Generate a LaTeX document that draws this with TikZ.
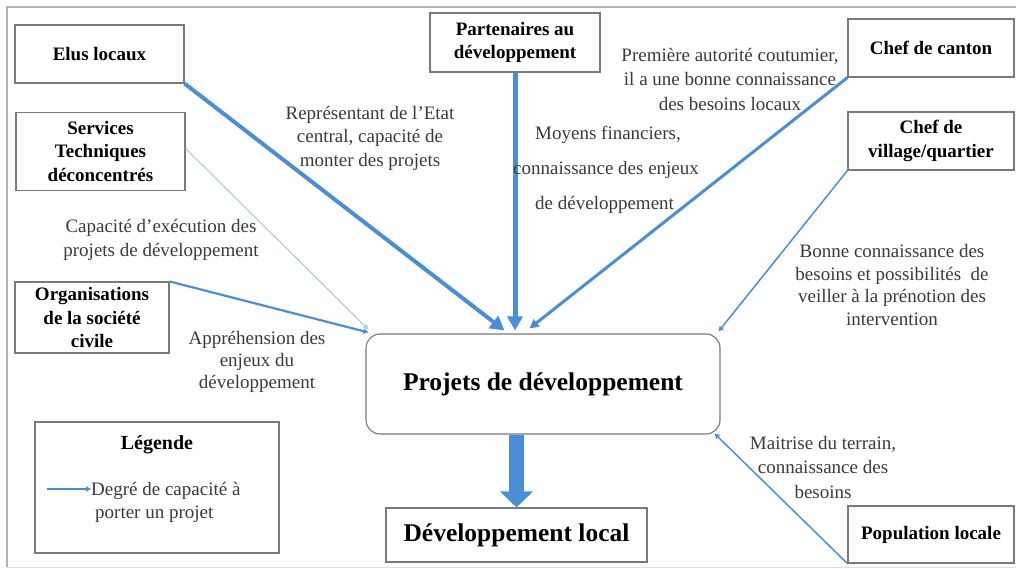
\documentclass[tikz,border=0pt]{standalone}
\usepackage{fontspec}
\setmainfont{Liberation Serif}
\usetikzlibrary{arrows.meta,calc}
\definecolor{arrowblue}{HTML}{4A8ED6}
\definecolor{lightblue}{HTML}{A8C9EC}
\definecolor{boxgray}{HTML}{7A7A7A}
\definecolor{labelgray}{HTML}{3A3A3A}
\begin{document}
\begin{tikzpicture}[x=1pt,y=-1pt,
  actor/.style={draw=boxgray, line width=1.1pt, fill=white, align=center,
    font=\fontsize{19}{23.5}\selectfont\bfseries, inner sep=2pt},
  bigbox/.style={actor, font=\fontsize{25.5}{30}\selectfont\bfseries},
  lbl/.style={align=center, text=labelgray, font=\fontsize{19}{23.5}\selectfont, inner sep=0pt},
  heavy/.style={draw=arrowblue, line width=#1, -{Triangle[length=14pt,width=15pt]}},
  medium/.style={draw=arrowblue, line width=#1, -{Triangle[length=9pt,width=9pt]}},
  light/.style={draw=arrowblue, line width=#1, -{Triangle[length=5pt,width=5pt]}},
]
\useasboundingbox (0,0) rectangle (1016,569);
\draw[gray!60, line width=1.2pt] (1016,7) -- (7,7) -- (7,567);
\draw[gray!25, line width=1pt] (7,567) -- (1016,567);

% actors
\node[actor, minimum width=169pt, minimum height=58pt] (elus) at (99.5,54) {Elus locaux};
\node[actor, minimum width=169pt, minimum height=78pt] (serv) at (100.5,151.5) {Services\\Techniques\\déconcentrés};
\node[actor, minimum width=154pt, minimum height=71pt] (org) at (92,317.5) {Organisations\\de la société\\civile};
\node[actor, minimum width=170pt, minimum height=59pt] (part) at (515,42.5) {Partenaires au\\développement};
\node[actor, minimum width=166pt, minimum height=58pt] (canton) at (931,48) {Chef de canton};
\node[actor, minimum width=166pt, minimum height=58pt] (village) at (931,141) {Chef de\\village/quartier};
\node[actor, minimum width=166pt, minimum height=57pt] (pop) at (931,534.5) {Population locale};
\node[bigbox, rounded corners=14pt, minimum width=354pt, minimum height=100pt] (proj) at (543,384) {Projets de développement};
\node[bigbox, minimum width=261pt, minimum height=54pt] (devloc) at (516.5,535) {Développement local};

% legend
\node[actor, minimum width=244pt, minimum height=131pt] (leg) at (157,487.5) {};
\node[font=\fontsize{20}{24}\selectfont\bfseries, inner sep=0pt] (legtitle) at (157,445) {Légende};
\node[lbl, align=left, anchor=west] (legtxt) at (91,502.5) {Degré de capacité à\\\hspace*{4pt}porter un projet};
\coordinate (legA) at (47,489);
\draw[light=1.2pt] (legA) -- (legA -| legtxt.west);

% connectors into projects
\draw[heavy=4pt] (elus.south east) -- ($(proj.north west)+(139,-3)$);
\draw[draw=lightblue, line width=1.1pt, -{Triangle[length=5pt,width=5pt]}] ($(serv.east)+(0,-3)$) -- ($(proj.north west)+(3,-4)$);
\draw[light=2.2pt] (org.north east) -- ($(proj.north west)+(3,-1)$);
\draw[heavy=5pt] (part.south) -- ($(part.south |- proj.north)+(0,-3)$);
\draw[medium=3pt] (canton.south west) -- ($(proj.north west)+(164,-5)$);
\draw[light=1.5pt] (village.south west) -- ($(proj.north east)+(-2,-2)$);
\draw[light=1.5pt] (pop.south west) -- ($(proj.south east)+(-6,-1)$);

% big arrow
\draw[arrowblue, line width=15pt, -{Triangle[length=16pt,width=32pt]}] (devloc.north |- proj.south) -- (devloc.north);

% labels
\node[lbl] (lrep) at (370,138) {Représentant de l’Etat\\central, capacité de\\monter des projets};
\node[lbl, anchor=west] (lmoy1) at (535,135) {Moyens financiers,};
\node[lbl, anchor=west] (lmoy2) at (513,170) {connaissance des enjeux};
\node[lbl, anchor=west] (lmoy3) at (535,205) {de développement};
\node[lbl, font=\fontsize{19}{24.5}\selectfont] (lprem) at (730,79) {Première autorité coutumier,\\il a une bonne connaissance\\des besoins locaux};
\node[lbl, font=\fontsize{19}{24}\selectfont] (lcap) at (161,240) {Capacité d’exécution des\\projets de développement};
\node[lbl, font=\fontsize{19}{22}\selectfont] (lappr) at (257,362) {Appréhension des\\enjeux du\\développement};
\node[lbl, font=\fontsize{19}{22.5}\selectfont] (lbonne) at (892,285) {Bonne connaissance des\\besoins et possibilités \ de\\veiller à la prénotion des\\intervention};
\node[lbl, font=\fontsize{19}{24.5}\selectfont] (lmait) at (823,467) {Maitrise du terrain,\\connaissance des\\besoins};
\end{tikzpicture}
\end{document}
